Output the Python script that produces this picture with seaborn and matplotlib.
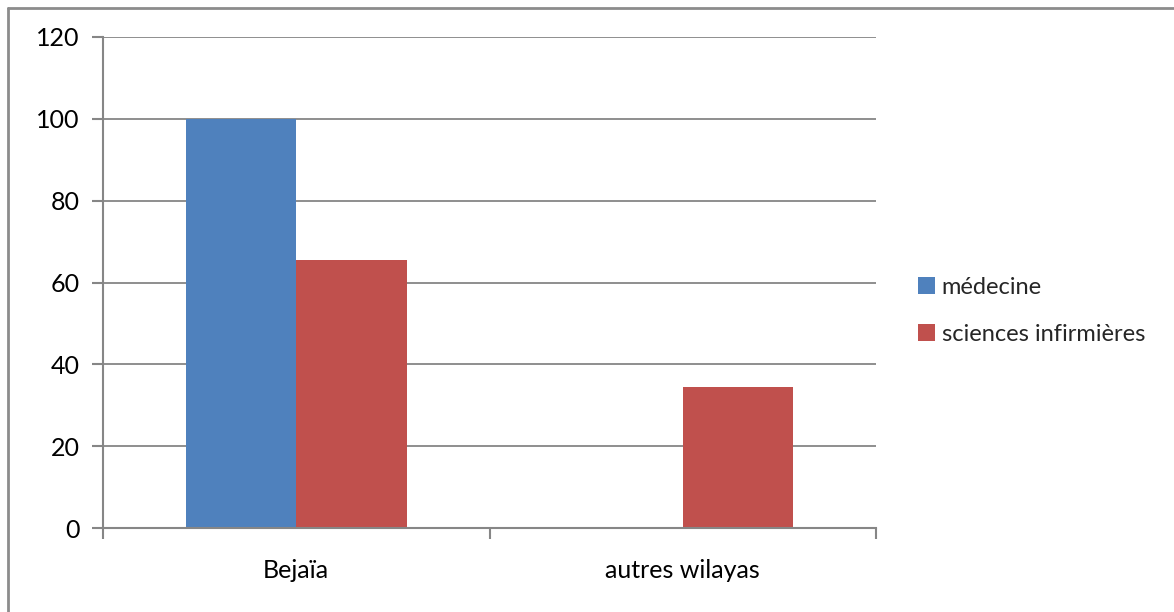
import matplotlib
matplotlib.use("Agg")
import matplotlib.pyplot as plt
from matplotlib.lines import Line2D
from matplotlib.patches import Patch
import seaborn as sns
import pandas as pd

categories = ["Bejaïa", "autres wilayas"]
medecine = [100, 0]
sciences_infirmieres = [65.6, 34.4]
series_names = ["médecine", "sciences infirmières"]
y_ticks = [0, 20, 40, 60, 80, 100, 120]

colors = ["#4F81BD", "#C0504D"]
grid_color = "#868686"

df = pd.DataFrame({
    "categorie": categories * 2,
    "serie": [series_names[0]] * 2 + [series_names[1]] * 2,
    "valeur": medecine + sciences_infirmieres,
})

sns.set_theme(style="white")
plt.rcParams["font.family"] = ["Lato", "DejaVu Sans"]

W, H = 1174, 612
fig = plt.figure(figsize=(W / 100, H / 100), dpi=100)
ax = fig.add_axes([103 / W, (H - 528) / H, (876 - 103) / W, (528 - 37) / H])

sns.barplot(data=df, x="categorie", y="valeur", hue="serie",
            palette=colors, width=2 / 3.5, saturation=1, gap=0,
            order=categories, hue_order=series_names, ax=ax,
            legend=False, linewidth=0)

ax.set_xlim(-0.5, 1.5)
ax.set_ylim(0, 120)
ax.set_yticks(y_ticks)
ax.set_yticklabels([str(v) for v in y_ticks], fontsize=18, color="#000000")
ax.set_xlabel("")
ax.set_ylabel("")
ax.tick_params(axis="x", which="major", bottom=False, length=0, labelsize=18,
               pad=22, labelcolor="#000000")
ax.set_xticks([-0.5, 0.5, 1.5], minor=True)
ax.tick_params(axis="x", which="minor", bottom=True, length=8, width=1.5,
               color=grid_color, direction="out")
ax.tick_params(axis="y", which="major", left=True, length=8, width=1.5,
               color=grid_color, direction="out", pad=9)

ax.yaxis.grid(True, color=grid_color, linewidth=1.3)
ax.set_axisbelow(True)
for side in ["top", "right"]:
    ax.spines[side].set_visible(False)
for side in ["left", "bottom"]:
    ax.spines[side].set_color(grid_color)
    ax.spines[side].set_linewidth(1.5)

handles = [Patch(facecolor=c, edgecolor="none") for c in colors]
fig.legend(handles, series_names, loc="center left",
           bbox_to_anchor=(897 / W, 1 - 311 / H), frameon=False,
           fontsize=17, handlelength=0.7, handleheight=0.7,
           handletextpad=0.3, labelspacing=1.1)

# outer chart frame (left and top edges)
fig.add_artist(Line2D([8 / W, 8 / W], [0, 1 - 8 / H], transform=fig.transFigure,
                      color="#8c8c8c", linewidth=2))
fig.add_artist(Line2D([8 / W, 1], [1 - 8 / H, 1 - 8 / H], transform=fig.transFigure,
                      color="#8c8c8c", linewidth=2))

fig.savefig("out.png", dpi=100, facecolor="white")
